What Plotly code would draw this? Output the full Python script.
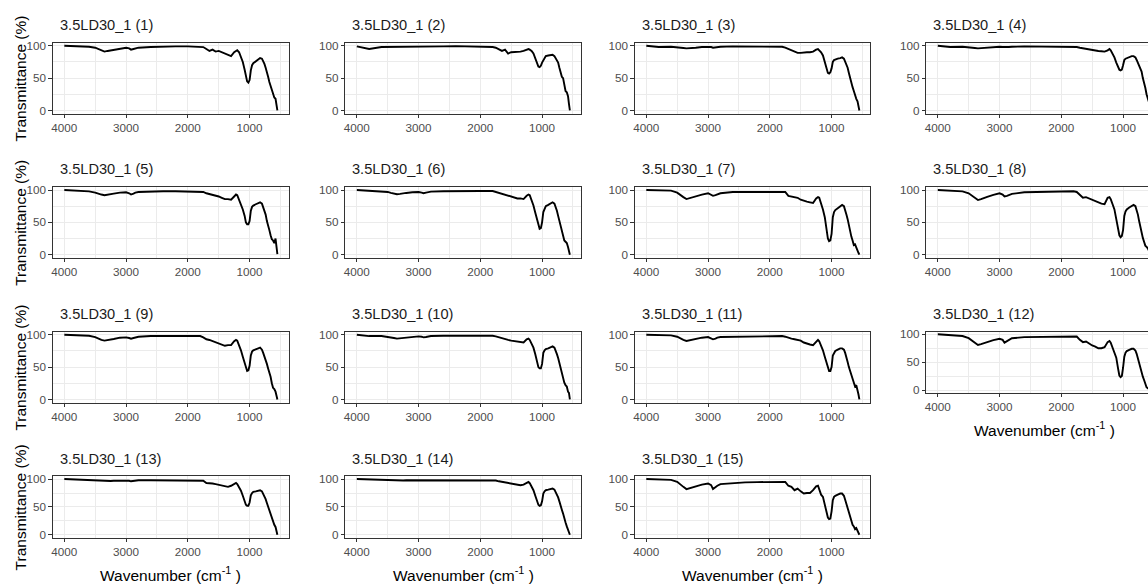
import plotly.graph_objects as go

W, H = 1148, 586

WAVENUMBER = [4000, 3800, 3600, 3500, 3450, 3400, 3350, 3300, 3250, 3200,
              3100, 3000, 2950, 2920, 2880, 2850, 2800, 2600, 2400, 2200,
              2000, 1800, 1750, 1700, 1650, 1600, 1550, 1500, 1450, 1400,
              1350, 1300, 1250, 1220, 1200, 1170, 1140, 1110, 1080, 1060,
              1040, 1020, 1000, 980, 960, 940, 900, 860, 830, 800,
              780, 760, 740, 720, 700, 680, 660, 640, 620, 600,
              580, 565, 550]

T1 = [100, 99.5, 98.5, 97, 95, 93, 91, 92, 93, 94, 96, 97, 96, 94, 95, 96, 97, 98, 99, 99,
      99, 99, 98, 95, 92, 94, 91, 92, 90, 88, 87, 84, 90, 92, 93, 90, 83, 75, 63, 52,
      45, 43, 47, 62, 70, 73, 76, 79, 81, 80, 77, 72, 66, 60, 52, 44, 38, 32, 25, 20,
      18, 8, 0]
T2 = [99, 95, 98, 98, 98, 98, 98, 98.5, 99, 99, 99, 99, 99, 99, 99, 99, 99, 99, 99.5, 99,
      99, 98, 97, 95, 92, 94, 88, 90, 90, 91, 91, 92, 94, 95, 94, 92, 88, 80, 72, 68,
      67, 69, 74, 78, 82, 84, 85, 86, 86, 84, 80, 77, 74, 66, 58, 52, 50, 40, 30, 28,
      22, 10, 0]
T3 = [100, 98, 98.5, 98, 97, 96.5, 96, 96, 96.5, 97, 98, 98.5, 98, 97, 97.5, 98, 98.5, 99, 99, 99,
      99, 98.5, 97, 95, 93, 92, 89, 89, 90, 90, 90, 91, 94, 95, 93, 90, 85, 75, 65, 58,
      57, 59, 65, 75, 78, 79, 80, 81, 82, 80, 76, 72, 66, 58, 50, 40, 36, 30, 22, 18,
      14, 6, 0]
T4 = [100, 98, 98.5, 98, 97, 96.5, 96, 96.5, 97, 97.5, 98, 98.5, 98, 97.5, 98, 98, 98.5, 99, 99, 99,
      99, 98.5, 98, 97, 96, 95.5, 95, 94, 93, 92, 91.5, 91, 93, 95, 93, 88, 82, 74, 66, 63,
      62, 63, 70, 78, 80, 81, 82, 84, 84, 82, 78, 74, 70, 65, 60, 50, 44, 35, 25, 20,
      14, 8, 0]
T5 = [100, 99.5, 98, 96, 94, 93, 92, 92.5, 93.5, 94.5, 96, 96.5, 95, 93, 94.5, 96, 97, 98, 98, 98,
      98, 98, 97, 95, 94, 92, 91, 90, 88, 86, 86, 85, 90, 93, 92, 85, 78, 70, 60, 50,
      47, 47, 52, 68, 74, 76, 78, 80, 81, 79, 74, 68, 62, 52, 42, 38, 30, 24, 22, 18,
      25, 15, 1]
T6 = [100, 99, 98.5, 97, 95.5, 94.5, 93.5, 94, 95, 95.5, 96.5, 97, 96, 95, 96, 97, 97.5, 98, 98.5, 98.5,
      98.5, 98.5, 97, 95, 94, 93, 91, 90, 88, 87, 87, 86, 91, 93, 92, 85, 76, 65, 54, 44,
      40, 41, 50, 66, 72, 75, 77, 80, 81, 79, 74, 68, 60, 52, 42, 38, 30, 22, 20, 18,
      12, 5, 0]
T7 = [100, 100, 99, 96, 92, 89, 86, 87.5, 89, 90.5, 93, 95, 93, 91, 92, 93.5, 95, 97, 97, 97,
      97, 98, 97, 91, 90, 88, 88, 85, 83, 82, 81, 80, 87, 89, 88, 80, 70, 58, 42, 25,
      21, 22, 32, 58, 66, 69, 72, 75, 77, 75, 70, 62, 55, 45, 35, 28, 22, 15, 16, 10,
      6, 3, 0]
T8 = [100, 99, 98, 95, 91, 88, 84.5, 86, 88, 89.5, 92.5, 95, 93, 90, 91, 92.5, 94, 96.5, 97, 97,
      97, 98, 97, 92, 88, 89, 87, 85, 82, 81, 79, 78, 88, 89, 86, 78, 70, 55, 40, 30,
      27, 29, 38, 60, 67, 70, 73, 76, 77, 75, 70, 62, 52, 42, 32, 26, 20, 14, 12, 10,
      6, 3, 0]
T9 = [100, 99.5, 98.5, 96.5, 94, 92, 91, 91.5, 92.5, 93.5, 95.5, 96, 95, 94, 95, 96, 97, 98, 98, 98,
      98, 98, 96, 93, 92, 90, 89, 87, 85, 83, 84, 84, 90, 92, 91, 84, 76, 66, 56, 47,
      44, 45, 52, 68, 74, 76, 77, 79, 80, 77, 72, 67, 60, 55, 48, 42, 35, 25, 18, 16,
      12, 6, 0]
T10 = [100, 98, 98, 97, 96, 95, 94, 94.5, 95.5, 96, 97, 97.5, 97, 96, 96.5, 97, 98, 98.5, 98.5, 98.5,
       99, 98.5, 97.5, 96, 94, 93, 92, 91, 90, 89, 88, 88, 93, 94, 92, 86, 80, 70, 58, 50,
       48, 48, 55, 72, 76, 78, 79, 81, 82, 80, 76, 70, 64, 56, 46, 38, 30, 26, 22, 20,
       12, 10, 0]
T11 = [100, 100, 99, 97, 94, 92, 90.5, 91.5, 93, 94, 95.5, 96.5, 95, 93, 94, 95.5, 96.5, 97, 97.5, 97,
       97.5, 98, 97, 95, 94, 93, 92, 91, 88, 86, 85, 84, 90, 92, 90, 84, 76, 66, 55, 47,
       44, 44, 50, 68, 73, 75, 77, 79, 79, 77, 72, 66, 58, 50, 44, 38, 33, 26, 20, 22,
       10, 8, 0]
T12 = [100, 99, 97, 93, 89, 85, 81, 82.5, 84.5, 86.5, 89.5, 92, 90, 85, 88, 90.5, 93, 95, 95.5, 96,
       96, 97, 96, 90, 86, 87, 83, 80, 78, 75, 75, 77, 86, 88, 85, 76, 70, 58, 38, 26,
       23, 25, 40, 60, 67, 70, 72, 74, 74, 71, 65, 56, 46, 38, 30, 24, 18, 10, 5, 3,
       2, 1, 0]
T13 = [100, 99, 98.5, 98, 97, 96.5, 96, 96, 96.5, 97, 97.5, 97.5, 97, 96, 96.5, 97, 98, 98, 98, 98,
       98, 98, 97, 93, 93, 92, 91, 90, 89, 87, 86, 88, 92, 93, 91, 85, 79, 70, 60, 54,
       52, 52, 58, 71, 75, 77, 78, 79, 80, 78, 74, 70, 64, 57, 50, 42, 35, 28, 22, 18,
       14, 6, 0]
T14 = [100, 99, 99, 98.5, 98, 97.5, 97, 97, 97.5, 98, 98, 98.5, 98, 97.5, 98, 98, 98.5, 98.5, 98.5, 98.5,
       98.5, 98.5, 97.5, 96, 95, 94, 93, 92, 91, 89, 89, 90, 94, 95, 93, 87, 80, 70, 60, 54,
       52, 53, 60, 74, 78, 80, 81, 82, 83, 81, 77, 73, 67, 60, 54, 45, 38, 28, 22, 15,
       8, 4, 0]
T15 = [100, 99, 98.5, 95, 90, 86, 82, 83.5, 85.5, 87.5, 90, 92, 89, 82, 86, 88, 91, 93, 94, 94.5,
       95, 96, 95, 88, 86, 80, 83, 78, 74, 75, 75, 80, 87, 88, 82, 72, 68, 55, 40, 31,
       28, 29, 42, 62, 68, 70, 72, 74, 74, 70, 63, 55, 48, 40, 30, 25, 18, 15, 10, 12,
       8, 5, 0]

PANELS = [T1, T2, T3, T4, T5, T6, T7, T8, T9, T10, T11, T12, T13, T14, T15]
PANEL_TITLES = ["3.5LD30_1 (1)", "3.5LD30_1 (2)", "3.5LD30_1 (3)", "3.5LD30_1 (4)",
                "3.5LD30_1 (5)", "3.5LD30_1 (6)", "3.5LD30_1 (7)", "3.5LD30_1 (8)",
                "3.5LD30_1 (9)", "3.5LD30_1 (10)", "3.5LD30_1 (11)", "3.5LD30_1 (12)",
                "3.5LD30_1 (13)", "3.5LD30_1 (14)", "3.5LD30_1 (15)"]
X_TICKS = [4000, 3000, 2000, 1000]
X_MINOR = [3500, 2500, 1500, 500]
Y_TICKS = [0, 50, 100]
Y_MINOR = [25, 75]
Y_TITLE = "Transmittance (%)"
X_TITLE = "Wavenumber (cm<sup>-1</sup> )"

FONT = "Liberation Sans, Arial, sans-serif"
LEFTS = [51, 344, 634, 926]
PW = 236
TOPS = [39, 185, 331.5, 478]
X_LO, X_HI = 4185, 370
Y_RANGE = [-5, 105]
GRID = "#EBEBEB"
LINE = "#333333"

fig = go.Figure()
layout = {}
annotations = []

for i, T in enumerate(PANELS):
    r, c = divmod(i, 4)
    k = i + 1
    sfx = "" if k == 1 else str(k)
    left = LEFTS[c]
    right = left + PW
    top = TOPS[r]
    h = 62 if (r == 3 or i == 11) else 72
    vis_right = min(right, W)
    x_end = X_LO - (vis_right - left) * (X_LO - X_HI) / PW
    cut = vis_right < right

    fig.add_trace(go.Scatter(x=WAVENUMBER, y=T, mode="lines",
                             line=dict(color="black", width=1.9),
                             xaxis="x" + sfx, yaxis="y" + sfx,
                             showlegend=False, hoverinfo="x+y"))

    layout["xaxis" + sfx] = dict(
        domain=[left / W, vis_right / W], anchor="y" + sfx,
        range=[X_LO, x_end], tickvals=X_TICKS, ticks="outside", ticklen=3.5,
        tickcolor=LINE, tickwidth=1,
        tickfont=dict(family=FONT, size=11.7, color="#4D4D4D"),
        showgrid=True, gridcolor=GRID, gridwidth=1,
        minor=dict(tickvals=X_MINOR, showgrid=True, gridcolor=GRID, gridwidth=0.6, ticks=""),
        showline=True, linecolor=LINE, linewidth=1, mirror=True, zeroline=False,
    )
    layout["yaxis" + sfx] = dict(
        domain=[1 - (top + h) / H, 1 - top / H], anchor="x" + sfx,
        range=Y_RANGE, tickvals=Y_TICKS, ticks="outside", ticklen=3.5,
        tickcolor=LINE, tickwidth=1,
        tickfont=dict(family=FONT, size=11.7, color="#4D4D4D"),
        showgrid=True, gridcolor=GRID, gridwidth=1,
        minor=dict(tickvals=Y_MINOR, showgrid=True, gridcolor=GRID, gridwidth=0.6, ticks=""),
        showline=True, linecolor=LINE, linewidth=1, mirror=(not cut), zeroline=False,
    )
    annotations.append(dict(
        text=PANEL_TITLES[i], xref="paper", yref="paper",
        x=(left + 5) / W, y=1 - (top - 18) / H, xanchor="left", yanchor="middle",
        showarrow=False, font=dict(family=FONT, size=14.6, color="#1A1A1A")))

# y axis titles, one per row
for r in range(4):
    h = 62 if r == 3 else 72
    cy = TOPS[r] + h / 2
    annotations.append(dict(
        text=Y_TITLE, xref="paper", yref="paper", x=18.5 / W, y=1 - cy / H,
        xanchor="center", yanchor="middle", textangle=-90, showarrow=False,
        font=dict(family=FONT, size=15.5, color="black")))

# x axis titles, one per column, under the bottom panel of each column
for c in range(4):
    if c < 3:
        bottom = TOPS[3] + 62
    else:
        bottom = TOPS[2] + 62
    cx = LEFTS[c] + PW / 2
    annotations.append(dict(
        text=X_TITLE, xref="paper", yref="paper", x=cx / W, y=1 - (bottom + 37) / H,
        xanchor="center", yanchor="middle", showarrow=False,
        font=dict(family=FONT, size=15.5, color="black")))

fig.update_layout(
    width=W, height=H, margin=dict(l=0, r=0, t=0, b=0),
    paper_bgcolor="white", plot_bgcolor="white",
    font=dict(family=FONT), annotations=annotations, **layout)

fig.write_html("out.html")
